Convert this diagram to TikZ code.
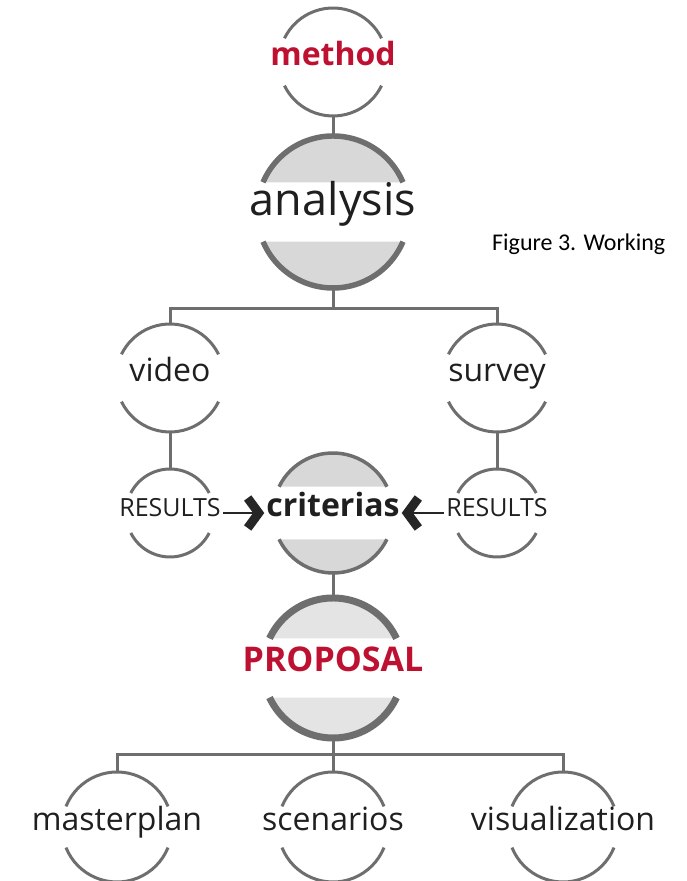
\documentclass[tikz,border=0pt]{standalone}
\usepackage{fontspec}
\setmainfont{Open Sans}
\newfontfamily\capfont{Carlito}
\usetikzlibrary{arrows.meta}

\definecolor{ringgray}{RGB}{110,110,110}
\definecolor{ringfill}{RGB}{216,216,216}
\definecolor{propfill}{RGB}{228,228,228}
\definecolor{headred}{RGB}{190,16,48}

\tikzset{
  ring/.style={circle, minimum size=#1, inner sep=0pt, outer sep=0pt},
  word/.style={font=\fontsize{32}{32}\selectfont, text=black!88,
    text height=0.74em, text depth=0pt, inner sep=2pt},
  bigword/.style={word, font=\fontsize{45}{45}\selectfont},
  capsword/.style={word, font=\fontsize{25}{25}\selectfont},
  boldword/.style={word, font=\bfseries\fontsize{32}{32}\selectfont},
  link/.style={ringgray, line width=3pt},
  chevron/.style={line width=2.5pt, black!85,
    -{Straight Barb[length=11pt, width=30pt, line width=9pt]}}
}

% two arcs of a ring, cut open where the word sits
% #1 fill, #2 node, #3 radius, #4 cut angle, #5 line width
\newcommand{\ringarcs}[5][none]{%
  \pgfmathtruncatemacro\ra{180-#4}%
  \pgfmathtruncatemacro\rb{180+#4}%
  \pgfmathtruncatemacro\rc{360-#4}%
  \path[fill=#1] (#2.#4) arc[start angle=#4, end angle=\ra, radius=#3] -- cycle;
  \path[fill=#1] (#2.\rb) arc[start angle=\rb, end angle=\rc, radius=#3] -- cycle;
  \draw[ringgray, line width=#5] (#2.#4) arc[start angle=#4, end angle=\ra, radius=#3];
  \draw[ringgray, line width=#5] (#2.\rb) arc[start angle=\rb, end angle=\rc, radius=#3];
}

\begin{document}
\begin{tikzpicture}[x=1pt, y=1pt]
  \useasboundingbox (0,0) rectangle (687,881);

  % rings
  \node[ring=108pt] (method) at (333,819) {};
  \node[ring=152pt] (analysis) at (333,669) {};
  \node[ring=108pt] (video) at (170,503) {};
  \node[ring=108pt] (survey) at (497,503) {};
  \node[ring=88pt] (resL) at (170,368) {};
  \node[ring=88pt] (resR) at (497,368) {};
  \node[ring=120pt] (crit) at (333,368) {};
  \node[ring=140pt] (proposal) at (333,213) {};
  \node[ring=110pt] (master) at (117,54) {};
  \node[ring=110pt] (scen) at (333,54) {};
  \node[ring=110pt] (visual) at (563,54) {};

  \ringarcs{method}{54pt}{26}{3pt}
  \ringarcs[ringfill]{analysis}{76pt}{23}{5.5pt}
  \ringarcs{video}{54pt}{26}{3pt}
  \ringarcs{survey}{54pt}{26}{3pt}
  \ringarcs{resL}{44pt}{27}{3pt}
  \ringarcs{resR}{44pt}{27}{3pt}
  \ringarcs[ringfill]{crit}{60pt}{26}{3.5pt}
  \ringarcs[propfill]{proposal}{70pt}{25}{7pt}
  \ringarcs{master}{55pt}{22}{3pt}
  \ringarcs{scen}{55pt}{22}{3pt}
  \ringarcs{visual}{55pt}{22}{3pt}

  % words
  \node[boldword, text=headred] (methodtxt) at (method) {method};
  \node[bigword] (analysistxt) at (analysis) {analysis};
  \node[word] (videotxt) at (video) {video};
  \node[word] (surveytxt) at (survey) {survey};
  \node[capsword] (resLtxt) at (resL) {RESULTS};
  \node[capsword] (resRtxt) at (resR) {RESULTS};
  \node[boldword] (crittxt) at (crit) {criterias};
  \node[boldword, text=headred, font=\bfseries\fontsize{34}{34}\selectfont] (proposaltxt) at (proposal) {PROPOSAL};
  \node[word] (mastertxt) at (master) {masterplan};
  \node[word] (scentxt) at (scen) {scenarios};
  \node[word] (visualtxt) at (visual) {visualization};
  \node[anchor=base west, inner sep=0pt, font=\capfont\fontsize{24}{24}\selectfont] (caption) at (492,630) {Figure 3. Working};

  % tree lines
  \coordinate (split1) at (333,572);
  \coordinate (split2) at (333,126);
  \draw[link] (method.south) -- (analysis.north);
  \draw[link] (analysis.south) -- (split1);
  \draw[link] (video.north) |- (split1) -| (survey.north);
  \draw[link] (video.south) -- (resL.north);
  \draw[link] (survey.south) -- (resR.north);
  \draw[link] (crit.south) -- (proposal.north);
  \draw[link] (proposal.south) -- (split2);
  \draw[link] (master.north) |- (split2) -| (visual.north);
  \draw[link] (split2) -- (scen.north);

  % results feed the criterias
  \draw[chevron] (resLtxt.east) -- (crittxt.west);
  \draw[chevron] (resRtxt.west) -- (crittxt.east);
\end{tikzpicture}
\end{document}
